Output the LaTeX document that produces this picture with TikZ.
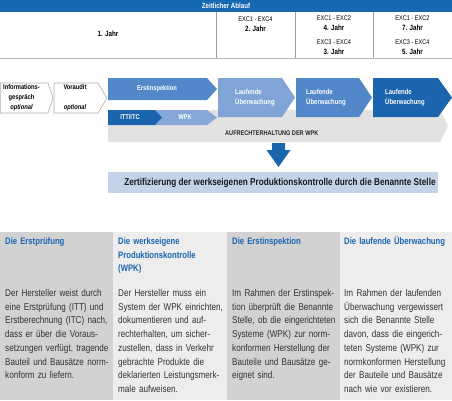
\documentclass[tikz,border=0pt]{standalone}
\usepackage{fontspec}
\setmainfont{Liberation Sans}[FakeStretch=0.82]
\definecolor{hdrblue}{RGB}{22,104,178}
\definecolor{darkblue}{RGB}{27,100,174}
\definecolor{midblue}{RGB}{82,135,202}
\definecolor{lightblue}{RGB}{128,164,214}
\definecolor{wpkblue}{RGB}{133,168,217}
\definecolor{certblue}{RGB}{197,211,234}
\definecolor{bandgray}{RGB}{226,226,226}
\definecolor{colA}{RGB}{210,210,210}
\definecolor{colB}{RGB}{237,237,237}
\definecolor{titleblue}{RGB}{25,100,176}
\definecolor{bodytext}{RGB}{50,50,50}
\begin{document}
\begin{tikzpicture}[x=1pt,y=-1pt,
  tbl/.style={font=\fontsize{6.8}{9}\selectfont, inner sep=0pt},
  tblb/.style={font=\bfseries\fontsize{7.6}{9}\selectfont, inner sep=0pt},
  chevtxt/.style={text=white, font=\bfseries\fontsize{7}{10}\selectfont, align=center, inner sep=0pt},
  lauftxt/.style={text=white, font=\bfseries\fontsize{7.3}{10}\selectfont, align=left, inner sep=0pt},
  graytxt/.style={font=\bfseries\fontsize{7}{10}\selectfont, align=center, inner sep=0pt},
  coltitle/.style={text=titleblue, font=\bfseries\fontsize{9.4}{13.5}\selectfont, text width=112pt, align=left, anchor=base west, inner sep=0pt},
  colbody/.style={text=bodytext, font=\fontsize{9.9}{13.7}\selectfont, text width=118pt, align=left, anchor=base west, inner sep=0pt},
  tline/.style={draw=gray!75, line width=0.6pt}
]
\useasboundingbox (0,0) rectangle (452,400);

% header
\fill[hdrblue] (0,0) rectangle (452,12);
\node[text=white, font=\bfseries\fontsize{7.5}{8}\selectfont, inner sep=0pt] (hdr) at (226,6) {Zeitlicher Ablauf};
\draw[tline] (216,12) -- (216,58);
\draw[tline] (295,12) -- (295,58);
\draw[tline] (373,12) -- (373,58);
\draw[draw=gray!55, line width=1.6pt] (0,58.5) -- (452,58.5);

\node[tblb] (j1) at (108,34) {1. Jahr};
\node[tbl]  (e2a) at (255.5,19) {EXC1 - EXC4};
\node[tblb] (j2) at (255.5,28.5) {2. Jahr};
\node[tbl]  (e3a) at (334,18.5) {EXC1 - EXC2};
\node[tblb] (j4) at (334,28) {4. Jahr};
\node[tbl]  (e3b) at (334,42) {EXC3 - EXC4};
\node[tblb] (j3) at (334,51.5) {3. Jahr};
\node[tbl]  (e4a) at (412.5,18.5) {EXC1 - EXC2};
\node[tblb] (j7) at (412.5,28) {7. Jahr};
\node[tbl]  (e4b) at (412.5,42) {EXC3 - EXC4};
\node[tblb] (j5) at (412.5,51.5) {5. Jahr};

% gray band
\fill[bandgray] (108,110) -- (440,110) -- (448,126) -- (440,142) -- (108,142) -- cycle;
\node[font=\bfseries\fontsize{6.8}{8}\selectfont, inner sep=0pt, anchor=west, text=black!85] (band) at (225,133) {AUFRECHTERHALTUNG DER WPK};

% white chevrons
\filldraw[fill=white, draw=gray!65, line width=0.6pt] (0.4,83) -- (48,83) -- (53,98) -- (48,113) -- (0.4,113) -- cycle;
\filldraw[fill=white, draw=gray!65, line width=0.6pt] (54,83) -- (98,83) -- (107,98) -- (98,113) -- (54,113) -- cycle;
\node[graytxt] (info) at (21.5,98) {Informations-\\gespräch\\\textit{optional}};
\node[graytxt, font=\bfseries\fontsize{7}{20}\selectfont] (vor) at (75,98) {Voraudit\\\textit{optional}};

% blue chevrons
\fill[midblue] (108,78) -- (207,78) -- (217,89) -- (207,100) -- (108,100) -- cycle;
\node[chevtxt] (erst) at (157,89) {Erstinspektion};
\fill[wpkblue] (155,110) -- (207,110) -- (217,117.5) -- (207,125) -- (155,125) -- cycle;
\fill[darkblue] (108,110) -- (155,110) -- (162,117.5) -- (155,125) -- (108,125) -- cycle;
\node[chevtxt] (itt) at (130,117.5) {ITT/ITC};
\node[chevtxt] (wpk) at (185,117.5) {WPK};

\fill[lightblue] (218,78) -- (282,78) -- (295,97.5) -- (282,117) -- (218,117) -- cycle;
\fill[midblue] (296,78) -- (359,78) -- (372,97.5) -- (359,117) -- (296,117) -- cycle;
\fill[darkblue] (373,78) -- (438,78) -- (452,97.5) -- (438,117) -- (373,117) -- cycle;
\node[lauftxt] (lu1) at (255,97.5) {Laufende\\Überwachung};
\node[lauftxt] (lu2) at (326,97.5) {Laufende\\Überwachung};
\node[lauftxt] (lu3) at (405,97.5) {Laufende\\Überwachung};

% down arrow
\fill[darkblue] (272,143) -- (285,143) -- (285,150) -- (290.5,150) -- (278.5,167) -- (266.5,150) -- (272,150) -- cycle;

% certification box
\fill[certblue] (108,172) rectangle (438,193);
\node[font=\bfseries\fontsize{10}{11}\selectfont, inner sep=0pt, text=black!90] (cert) at (280,182.5) {Zertifizierung der werkseigenen Produktionskontrolle durch die Benannte Stelle};

% bottom columns
\fill[colA] (0,232) rectangle (113,400);
\fill[colB] (113,232) rectangle (227,400);
\fill[colA] (227,232) rectangle (340,400);
\fill[colB] (340,232) rectangle (452,400);

\node[coltitle] (t1) at (5,244.5) {Die Erstprüfung};
\node[coltitle] (t2) at (118,244.5) {Die werkseigene\\Produktionskontrolle\\(WPK)};
\node[coltitle] (t3) at (232,244.5) {Die Erstinspektion};
\node[coltitle] (t4) at (344,244.5) {Die laufende Überwachung};

\node[colbody] (b1) at (5,296.5) {Der Hersteller weist durch\\eine Erstprüfung (ITT) und\\Erstberechnung (ITC) nach,\\dass er über die Voraus-\\setzungen verfügt, tragende\\Bauteil und Bausätze norm-\\konform zu liefern.};
\node[colbody] (b2) at (118,296.5) {Der Hersteller muss ein\\System der WPK einrichten,\\dokumentieren und auf-\\rechterhalten, um sicher-\\zustellen, dass in Verkehr\\gebrachte Produkte die\\deklarierten Leistungsmerk-\\male aufweisen.};
\node[colbody] (b3) at (232,296.5) {Im Rahmen der Erstinspek-\\tion überprüft die Benannte\\Stelle, ob die eingerichteten\\Systeme (WPK) zur norm-\\konformen Herstellung der\\Bauteile und Bausätze ge-\\eignet sind.};
\node[colbody] (b4) at (344,296.5) {Im Rahmen der laufenden\\Überwachung vergewissert\\sich die Benannte Stelle\\davon, dass die eingerich-\\teten Systeme (WPK) zur\\normkonformen Herstellung\\der Bauteile und Bausätze\\nach wie vor existieren.};
\end{tikzpicture}
\end{document}
